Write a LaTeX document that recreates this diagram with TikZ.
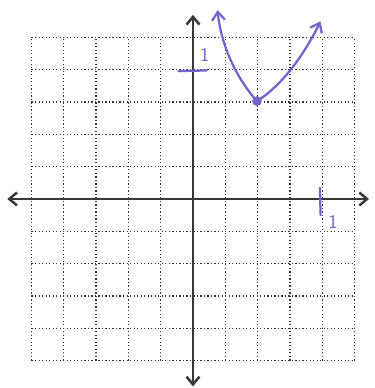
\documentclass[tikz,border=0pt]{standalone}
\usetikzlibrary{arrows.meta}

\definecolor{pen}{RGB}{118,100,204}
\definecolor{axisgray}{RGB}{55,55,60}

\begin{document}
\begin{tikzpicture}[
    x=1cm, y=1cm,
    every node/.style={font=\sffamily\LARGE},
    gridline/.style={dotted, line width=1.1pt, black!80},
    axis/.style={{Straight Barb[length=2.4mm,width=4mm]}-{Straight Barb[length=2.4mm,width=4mm]}, line width=2.2pt, axisgray},
    curve/.style={-{Straight Barb[length=2.6mm,width=4mm]}, line width=2pt, pen, line cap=round},
    tick/.style={line width=2pt, pen, line cap=round},
    label/.style={text=pen, inner sep=0pt}
]
\useasboundingbox (-5.975,-5.851) rectangle (5.604,6.161);

% grid
\draw[gridline] (-5,-5) grid (5,5);

% axes
\coordinate (xl) at (-5.75,0);
\coordinate (xr) at (5.45,0);
\coordinate (yb) at (0,-5.8);
\coordinate (yt) at (0,5.7);
\draw[axis] (xl) -- (xr);
\draw[axis] (yb) -- (yt);

% unit marks
\coordinate (ya) at (-0.45,3.96);
\coordinate (yc) at (0.42,3.98);
\coordinate (xa) at (3.93,0.35);
\coordinate (xc) at (3.95,-0.5);
\draw[tick] (ya) -- (yc);
\draw[tick] (xa) -- (xc);
\node[label] (ylab) at (0.36,4.45) {1};
\node[label] (xlab) at (4.33,-0.72) {1};

% parabola
\coordinate (vertex) at (1.98,3.03);
\coordinate (lend) at (0.76,5.85);
\coordinate (rend) at (3.95,5.5);
\draw[curve] (vertex) .. controls (1.25,3.85) and (0.85,4.9) .. (lend);
\draw[curve] (vertex) .. controls (2.8,3.55) and (3.45,4.5) .. (rend);
\fill[pen] (vertex) circle (0.15);
\end{tikzpicture}
\end{document}
